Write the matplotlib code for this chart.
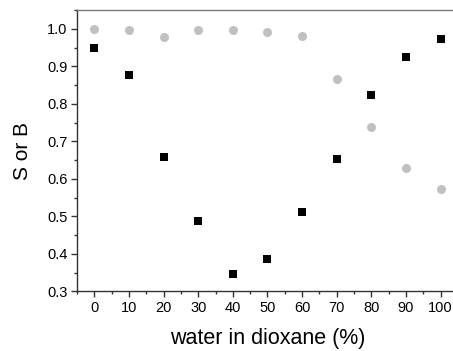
import matplotlib
matplotlib.use("Agg")
import matplotlib.pyplot as plt
from matplotlib.ticker import MultipleLocator

plt.rcParams['font.family'] = ['Liberation Sans', 'DejaVu Sans']

# water in dioxane (%)
water = [0, 10, 20, 30, 40, 50, 60, 70, 80, 90, 100]
# black squares
b_vals = [0.949, 0.877, 0.659, 0.488, 0.346, 0.387, 0.512, 0.652, 0.824, 0.925, 0.973]
# gray circles
s_vals = [1.000, 0.996, 0.977, 0.996, 0.996, 0.992, 0.981, 0.867, 0.738, 0.628, 0.573]

fig = plt.figure(figsize=(4.53, 3.51), dpi=100)
ax = fig.add_axes([0.170, 0.170, 0.841, 0.8015])

ax.plot(water, s_vals, 'o', color='#c0c0c0', markersize=6.5, markeredgewidth=0)
ax.plot(water, b_vals, 's', color='black', markersize=5.8, markeredgewidth=0)

ax.set_xlim(-5, 105)
ax.set_ylim(0.3, 1.05)
ax.xaxis.set_major_locator(MultipleLocator(10))
ax.xaxis.set_minor_locator(MultipleLocator(5))
ax.yaxis.set_major_locator(MultipleLocator(0.1))
ax.yaxis.set_minor_locator(MultipleLocator(0.05))
ax.yaxis.set_major_formatter(plt.FormatStrFormatter('%.1f'))

for side in ['left', 'bottom']:
    ax.spines[side].set_color('#333333')
    ax.spines[side].set_linewidth(1.0)
ax.spines['top'].set_color('#777777')
ax.spines['top'].set_linewidth(1.0)
ax.spines['right'].set_visible(False)

ax.tick_params(which='both', direction='out', top=False, right=False, colors='#333333')
ax.tick_params(which='major', length=4, width=1.0, labelsize=10.5, labelcolor='black', pad=3)
ax.tick_params(which='minor', length=2.5, width=1.0)

ax.set_xlabel('water in dioxane (%)', fontsize=15.5, labelpad=9)
ax.set_ylabel('S or B', fontsize=15, labelpad=11)

fig.savefig('out.png', dpi=100)
